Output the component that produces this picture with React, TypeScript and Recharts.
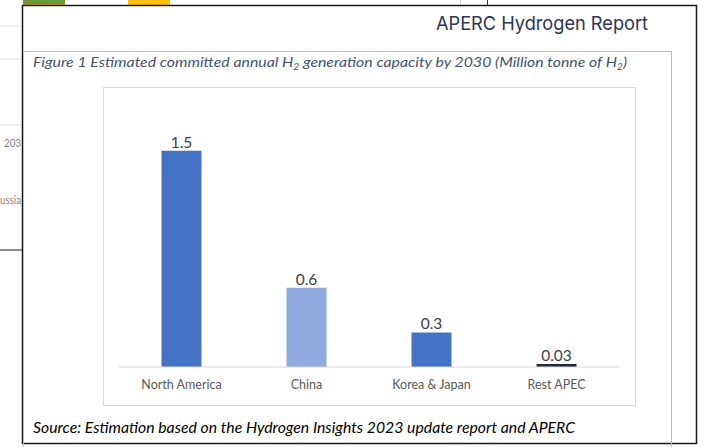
import { BarChart, Bar, XAxis, YAxis, Cell, LabelList } from 'recharts';

// Figure 1: committed annual H2 generation capacity by 2030 (Mt H2)
const regions = ['North America', 'China', 'Korea & Japan', 'Rest APEC'];
const capacity = [1.5, 0.55, 0.24, 0.02]; // bar heights as drawn
const capacityLabels = ['1.5', '0.6', '0.3', '0.03']; // labels as printed
const barColors = ['#4472C4', '#8FAADC', '#4472C4', '#222A35'];

const data = regions.map((region, i) => ({
  region,
  value: capacity[i],
  label: capacityLabels[i],
}));

const calibri = 'Lato, "Open Sans", sans-serif';

export default function App() {
  return (
    <div style={{ position: 'absolute', left: 0, top: 0, width: 705, height: 447, background: '#fff', overflow: 'hidden' }}>
      <svg width={705} height={447} style={{ position: 'absolute', left: 0, top: 0 }}>
        <defs>
          <linearGradient id="rule" x1="0" x2="1" y1="0" y2="0">
            <stop offset="0" stopColor="#6f8fd2" />
            <stop offset="0.15" stopColor="#3f62a8" />
            <stop offset="0.4" stopColor="#7d9ad8" />
            <stop offset="0.7" stopColor="#4a6fc0" />
            <stop offset="1" stopColor="#5f86d4" />
          </linearGradient>
        </defs>

        {/* bits of the document behind the page */}
        <line x1={0} x2={22} y1={26} y2={26} stroke="#e4e4e4" />
        <line x1={0} x2={22} y1={59} y2={59} stroke="#e4e4e4" />
        <line x1={0} x2={22} y1={125} y2={125} stroke="#e4e4e4" />
        <text x={4} y={147} fontSize={12} fill="#7f7f7f" fontFamily={calibri} textLength={17} lengthAdjust="spacingAndGlyphs">203</text>
        <text x={0} y={204} fontSize={12} fill="#7f7f7f" fontFamily={calibri} textLength={21} lengthAdjust="spacingAndGlyphs">ussia</text>
        <line x1={0} x2={22} y1={250} y2={250} stroke="#6b6b6b" strokeWidth={1.5} />
        <rect x={23} y={0} width={42} height={4} fill="#6a9a3a" />
        <rect x={23} y={4} width={42} height={1.5} fill="#d6a514" />
        <rect x={128} y={0} width={42} height={5} fill="#FFC000" />
        <line x1={460.5} x2={460.5} y1={0} y2={5} stroke="#d0d0d0" />
        <line x1={487.5} x2={487.5} y1={0} y2={5} stroke="#333" />

        {/* the page */}
        <rect x={22.5} y={5.5} width={674} height={438} fill="#fff" stroke="#1a1a1a" strokeWidth={1.5} />
        <text x={648} y={29.5} textAnchor="end" fontFamily="Inter, 'Noto Sans', sans-serif" fontSize={19} fill="#2b3754"
          textLength={212} lengthAdjust="spacingAndGlyphs">APERC Hydrogen Report</text>
        <line x1={23} x2={655} y1={33.5} y2={33.5} stroke="url(#rule)" strokeWidth={2} />

        {/* figure frame */}
        <rect x={23.5} y={51.5} width={648} height={400} fill="none" stroke="#bdbdbd" />
        <text x={33} y={67} fontFamily={calibri} fontStyle="italic" fontSize={14} fill="#44546A"
          textLength={594} lengthAdjust="spacingAndGlyphs">
          Figure 1 Estimated committed annual H<tspan fontSize={9} dy={3}>2</tspan>
          <tspan dy={-3}> generation capacity by 2030 (Million tonne of H</tspan>
          <tspan fontSize={9} dy={3}>2</tspan><tspan dy={-3}>)</tspan>
        </text>
        <rect x={103.5} y={87.5} width={532} height={318} fill="#fff" stroke="#d9d9d9" />
        <text x={33} y={433} fontFamily={calibri} fontStyle="italic" fontSize={14.5} fill="#000"
          textLength={542} lengthAdjust="spacingAndGlyphs">
          Source: Estimation based on the Hydrogen Insights 2023 update report and APERC
        </text>
      </svg>

      <div style={{ position: 'absolute', left: 103, top: 87 }}>
        <BarChart width={533} height={319} data={data} margin={{ top: 35, right: 17, bottom: 9, left: 16 }} barCategoryGap="34%">
          <XAxis
            dataKey="region"
            interval={0}
            height={30}
            tickLine={false}
            axisLine={{ stroke: '#d9d9d9' }}
            tickMargin={7}
            tick={{ fill: '#595959', fontSize: 12.5, fontFamily: calibri }}
          />
          <YAxis hide domain={[0, 1.7]} />
          <Bar dataKey="value" isAnimationActive={false}>
            {data.map((d, i) => (
              <Cell key={d.region} fill={barColors[i]} />
            ))}
            <LabelList dataKey="label" position="top" offset={3} fill="#404040" fontSize={15.5} fontFamily={calibri} />
          </Bar>
        </BarChart>
      </div>
    </div>
  );
}
